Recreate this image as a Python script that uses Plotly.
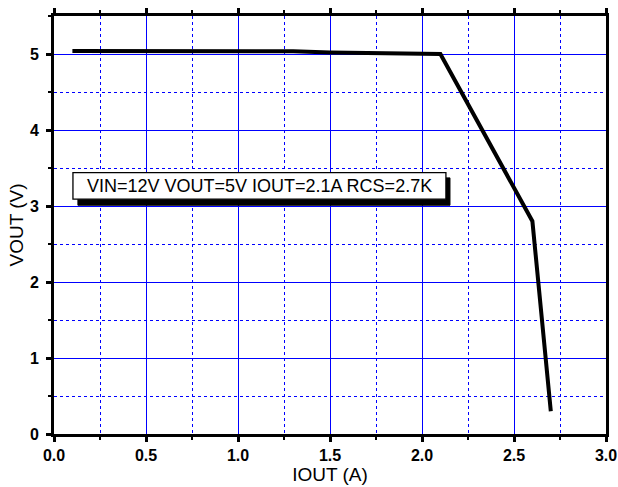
import plotly.graph_objects as go

iout = [0.1, 0.5, 1.0, 1.3, 1.5, 1.7, 2.0, 2.1, 2.6, 2.7]
vout = [5.04, 5.04, 5.04, 5.035, 5.02, 5.015, 5.0, 5.0, 2.8, 0.3]

x_ticks = [0.0, 0.5, 1.0, 1.5, 2.0, 2.5, 3.0]
x_labels = ["0.0", "0.5", "1.0", "1.5", "2.0", "2.5", "3.0"]
y_ticks = [0, 1, 2, 3, 4, 5]
y_labels = ["0", "1", "2", "3", "4", "5"]

note = "VIN=12V VOUT=5V IOUT=2.1A RCS=2.7K"
note_box = dict(x0=0.103, x1=2.13, y0=3.09, y1=3.44)
shadow_box = dict(x0=0.13, x1=2.152, y0=3.01, y1=3.37)

FONT = "Arial, Liberation Sans, sans-serif"
GRID = "#0000ff"

fig = go.Figure()
fig.add_trace(go.Scatter(x=iout, y=vout, mode="lines",
                         line=dict(color="black", width=4),
                         showlegend=False, hoverinfo="skip"))

axis_common = dict(
    showline=True, linecolor="black", linewidth=3,
    ticks="outside", ticklen=5, tickwidth=3, tickcolor="black",
    showgrid=True, gridcolor=GRID, gridwidth=1,
    zeroline=False, automargin=False,
    tickfont=dict(family=FONT, size=16, color="black", weight="bold"),
)

fig.update_xaxes(
    range=[0, 3.0], tickvals=x_ticks, ticktext=x_labels,
    mirror="allticks",
    minor=dict(dtick=0.25, ticks="outside", ticklen=3, tickwidth=2, tickcolor="black",
               showgrid=True, gridcolor=GRID, griddash="3px,3px", gridwidth=1),
    title=dict(text="IOUT (A)", font=dict(family=FONT, size=19, color="black"), standoff=0),
    **axis_common,
)
fig.update_yaxes(
    range=[0, 5.5], tickvals=y_ticks, ticktext=y_labels,
    mirror=True, ticklabelstandoff=4,
    minor=dict(dtick=0.5, ticks="outside", ticklen=3, tickwidth=2, tickcolor="black",
               showgrid=True, gridcolor=GRID, griddash="3px,3px", gridwidth=1),
    title=dict(text="VOUT (V)", font=dict(family=FONT, size=19, color="black"), standoff=2),
    **axis_common,
)

fig.add_shape(type="rect", xref="x", yref="y", layer="above",
              fillcolor="black", line=dict(color="black", width=1), **shadow_box)
fig.add_shape(type="rect", xref="x", yref="y", layer="above",
              fillcolor="white", line=dict(color="black", width=1.3), **note_box)
fig.add_annotation(x=(note_box["x0"] + note_box["x1"]) / 2,
                   y=(note_box["y0"] + note_box["y1"]) / 2,
                   xref="x", yref="y", text=note, showarrow=False,
                   font=dict(family=FONT, size=18, color="black"))

fig.update_layout(
    width=618, height=487,
    margin=dict(l=54, r=12, t=16, b=53),
    paper_bgcolor="white", plot_bgcolor="white",
)

# remove the default page margin so the figure fills the window exactly
fig.write_html("out.html",
               config={"displayModeBar": False},
               post_script="document.body.style.margin='0';document.body.style.overflow='hidden';")
